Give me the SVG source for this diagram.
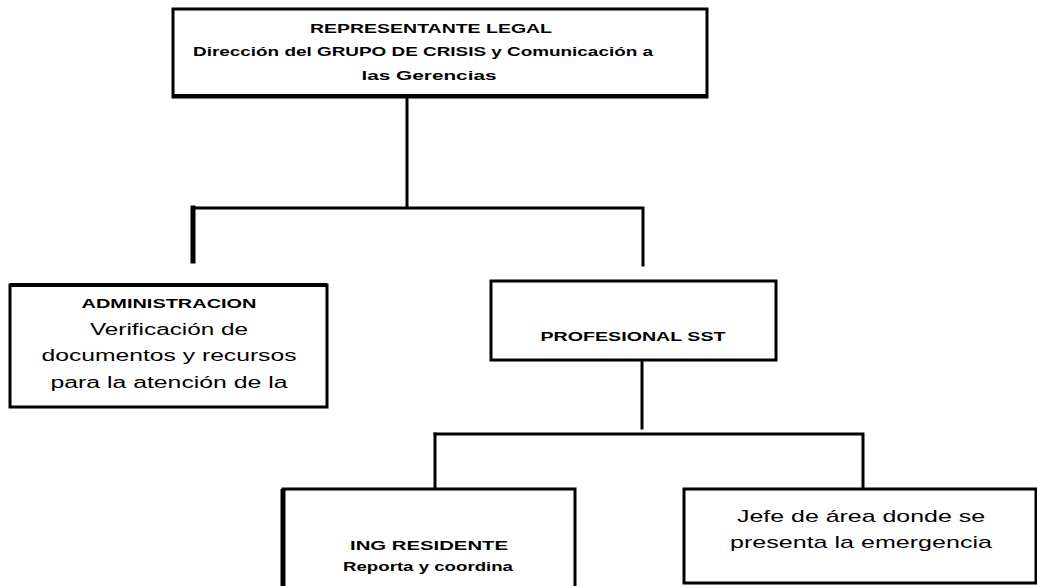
<svg xmlns="http://www.w3.org/2000/svg" width="1037" height="586" viewBox="0 0 1037 586">
<style>
.box{fill:#fff;stroke:#000;stroke-width:3}
.ln{fill:none;stroke:#000;stroke-width:3;stroke-linecap:square}
.b{font-family:"Liberation Sans",Arial,sans-serif;font-weight:bold;fill:#000;text-anchor:middle}
.r{font-family:"Liberation Sans",Arial,sans-serif;fill:#000;text-anchor:middle}
</style>
<rect width="1037" height="586" fill="#fff"/>
<g id="connectors">
<path class="ln" d="M407 97 V206"/>
<path class="ln" d="M193 208 H643 V265"/>
<path class="ln" d="M193 208 V261" style="stroke-width:5"/>
<path class="ln" d="M642 360 V428"/>
<path class="ln" d="M435 434 H863 V487"/>
<path class="ln" d="M435 434 V488"/>
</g>
<g id="n-representante">
<rect class="box" x="173" y="9" width="534" height="88"/>
<line x1="173" y1="96" x2="707" y2="96" stroke="#000" stroke-width="4"/>
<text class="b" x="431" y="33" font-size="13" textLength="242" lengthAdjust="spacingAndGlyphs">REPRESENTANTE LEGAL</text>
<text class="b" x="423" y="56" font-size="13" textLength="460" lengthAdjust="spacingAndGlyphs">Dirección del GRUPO DE CRISIS y Comunicación a</text>
<text class="b" x="429" y="80" font-size="13" textLength="135" lengthAdjust="spacingAndGlyphs">las Gerencias</text>
</g>
<g id="n-administracion">
<rect class="box" x="10" y="285" width="317" height="122"/>
<line x1="10" y1="285" x2="327" y2="285" stroke="#000" stroke-width="4"/>
<text class="b" x="169" y="308" font-size="12" textLength="175" lengthAdjust="spacingAndGlyphs">ADMINISTRACION</text>
<text class="r" x="169" y="335" font-size="16" textLength="158" lengthAdjust="spacingAndGlyphs">Verificación de</text>
<text class="r" x="169" y="361" font-size="16" textLength="255" lengthAdjust="spacingAndGlyphs">documentos y recursos</text>
<text class="r" x="169" y="388" font-size="16" textLength="237" lengthAdjust="spacingAndGlyphs">para la atención de la</text>
</g>
<g id="n-profesional">
<rect class="box" x="491" y="281" width="285" height="79"/>
<text class="b" x="633" y="341" font-size="13" textLength="185" lengthAdjust="spacingAndGlyphs">PROFESIONAL SST</text>
</g>
<g id="n-ing">
<rect class="box" x="283" y="489" width="292" height="110"/>
<line x1="283" y1="489" x2="283" y2="586" stroke="#000" stroke-width="5"/>
<text class="b" x="429" y="550" font-size="13" textLength="158" lengthAdjust="spacingAndGlyphs">ING RESIDENTE</text>
<text class="b" x="428" y="571" font-size="13" textLength="170" lengthAdjust="spacingAndGlyphs">Reporta y coordina</text>
</g>
<g id="n-jefe">
<rect class="box" x="684" y="489" width="352" height="94"/>
<text class="r" x="861" y="522" font-size="17" textLength="248" lengthAdjust="spacingAndGlyphs">Jefe de área donde se</text>
<text class="r" x="861" y="548" font-size="17" textLength="262" lengthAdjust="spacingAndGlyphs">presenta la emergencia</text>
</g>
</svg>
